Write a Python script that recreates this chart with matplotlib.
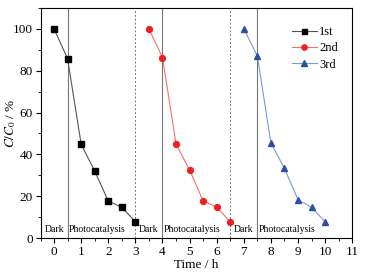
import matplotlib
matplotlib.use('Agg')
import matplotlib.pyplot as plt
from matplotlib.ticker import MultipleLocator

plt.rcParams['font.family'] = ['Liberation Serif', 'DejaVu Serif']
plt.rcParams['mathtext.fontset'] = 'stix'

t1 = [0, 0.5, 1, 1.5, 2, 2.5, 3]
c1 = [100, 85.7, 44.8, 32.0, 17.7, 14.7, 7.8]
t2 = [3.5, 4, 4.5, 5, 5.5, 6, 6.5]
c2 = [100, 86.3, 45.0, 32.5, 17.8, 14.8, 7.7]
t3 = [7, 7.5, 8, 8.5, 9, 9.5, 10]
c3 = [100, 87.0, 45.5, 33.3, 18.3, 14.7, 7.8]

light_on = [0.5, 4, 7.5]
cycle_end = [3, 6.5]
dark_x = [0, 3.5, 7]
photo_x = [0.55, 4.05, 7.55]

fig = plt.figure(figsize=(3.65, 2.73), dpi=100)
ax = fig.add_axes([0.111, 0.128, 0.854, 0.843])

for x in light_on:
    ax.axvline(x, color='#777777', lw=0.8, zorder=1)
for x in cycle_end:
    ax.axvline(x, color='#777777', lw=0.7, ls=(0, (2, 2)), zorder=1)

ax.plot(t1, c1, color='#555555', lw=0.8, marker='s', ms=4,
        mfc='black', mec='black', label='1st', zorder=3)
ax.plot(t2, c2, color='#f07070', lw=0.8, marker='o', ms=4.2,
        mfc='#ee2020', mec='#ee2020', label='2nd', zorder=3)
ax.plot(t3, c3, color='#7f96d0', lw=0.8, marker='^', ms=4.8,
        mfc='#2a4ea6', mec='#2a4ea6', label='3rd', zorder=3)

for x in dark_x:
    ax.text(x, 4, 'Dark', ha='center', va='center', fontsize=7)
for x in photo_x:
    ax.text(x, 4, 'Photocatalysis', ha='left', va='center', fontsize=7)

ax.set_xlim(-0.5, 11)
ax.set_ylim(0, 110)
ax.xaxis.set_major_locator(MultipleLocator(1))
ax.xaxis.set_minor_locator(MultipleLocator(0.5))
ax.yaxis.set_major_locator(MultipleLocator(20))
ax.yaxis.set_minor_locator(MultipleLocator(10))
ax.tick_params(which='both', direction='out', labelsize=9.5, pad=2)
ax.tick_params(which='major', length=3.5)
ax.tick_params(which='minor', length=2)
ax.set_xlabel('Time / h', fontsize=9.5, labelpad=1)
ax.set_ylabel(r'$C/C_0$ / %', fontsize=9.5)
ax.yaxis.set_label_coords(-0.072, 0.5)

ax.legend(loc='upper right', frameon=False, fontsize=9, handlelength=2.0,
          handletextpad=0.2, labelspacing=0.35, markerscale=0.9,
          bbox_to_anchor=(0.99, 0.97))

fig.savefig('out.png', dpi=100)
